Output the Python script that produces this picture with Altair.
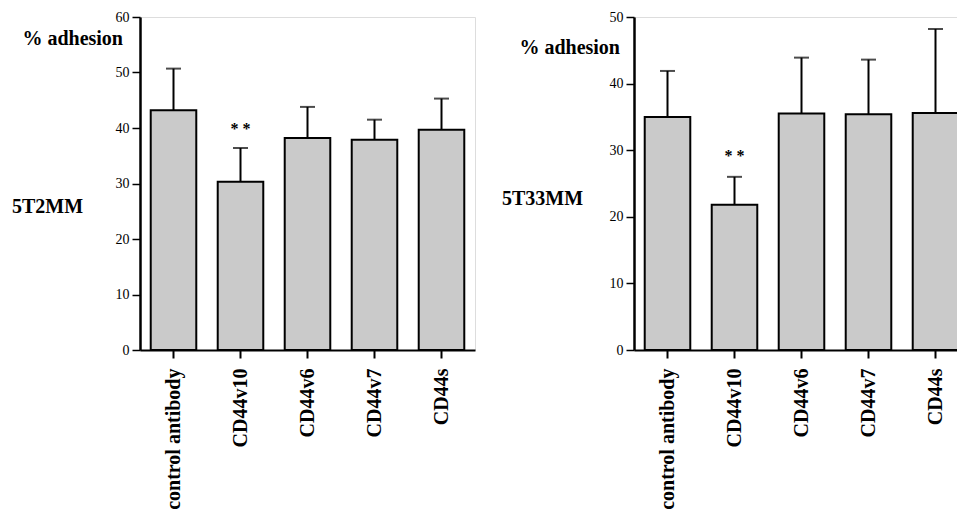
import altair as alt
import pandas as pd

categories = ["control antibody", "CD44v10", "CD44v6", "CD44v7", "CD44s"]

left_mean = [43.2, 30.3, 38.2, 37.9, 39.7]
left_upper = [50.7, 36.4, 43.8, 41.5, 45.3]
left_ymax = 60
left_star_y = [39.9]

right_mean = [35.0, 21.8, 35.5, 35.4, 35.6]
right_upper = [41.9, 26.0, 43.9, 43.6, 48.2]
right_ymax = 50
right_star_y = [29.1]

star_cat = ["CD44v10"]
star_text = ["* *"]

SERIF = "Liberation Serif"


def panel(mean, upper, ymax, star_y, cell_name, ylab_xy, cell_xy):
    df = pd.DataFrame({"cat": categories, "mean": mean, "upper": upper})
    x = alt.X(
        "cat:N",
        sort=categories,
        scale=alt.Scale(paddingInner=0.32, paddingOuter=0.16),
        axis=alt.Axis(
            title=None,
            labelAngle=-90,
            labelFont=SERIF,
            labelFontWeight="bold",
            labelFontSize=20,
            labelColor="black",
            labelPadding=10,
            labelLimit=400,
            tickSize=8,
            tickWidth=2,
            tickColor="black",
            domainWidth=2,
            domainColor="black",
        ),
    )
    y = alt.Y(
        "mean:Q",
        scale=alt.Scale(domain=[0, ymax], nice=False),
        axis=alt.Axis(
            title=None,
            values=list(range(0, ymax + 1, 10)),
            grid=False,
            tickSize=8,
            tickWidth=1.5,
            tickColor="black",
            labelFont=SERIF,
            labelFontSize=14,
            labelColor="black",
            labelPadding=3,
            domainWidth=2.5,
            domainColor="black",
        ),
    )
    base = alt.Chart(df)
    bars = base.mark_bar(fill="#cacaca", stroke="black", strokeWidth=2).encode(x=x, y=y)
    rule = base.mark_rule(color="black", strokeWidth=2).encode(
        x=alt.X("cat:N", sort=categories), y="mean:Q", y2="upper:Q"
    )
    cap = base.mark_tick(orient="horizontal", size=15, thickness=2, color="black").encode(
        x=alt.X("cat:N", sort=categories), y="upper:Q"
    )
    sdf = pd.DataFrame({"cat": star_cat, "y": star_y, "t": star_text})
    stars = alt.Chart(sdf).mark_text(
        font=SERIF, fontWeight="bold", fontSize=16, baseline="middle", color="black"
    ).encode(x=alt.X("cat:N", sort=categories), y="y:Q", text="t:N")
    ylab = alt.Chart(pd.DataFrame({"t": ["% adhesion"]})).mark_text(
        font=SERIF, fontWeight="bold", fontSize=20, align="right", baseline="middle", color="black"
    ).encode(x=alt.value(ylab_xy[0]), y=alt.value(ylab_xy[1]), text="t:N")
    clab = alt.Chart(pd.DataFrame({"t": [cell_name]})).mark_text(
        font=SERIF, fontWeight="bold", fontSize=20, align="left", baseline="middle", color="black"
    ).encode(x=alt.value(cell_xy[0]), y=alt.value(cell_xy[1]), text="t:N")
    return alt.layer(bars, rule, cap, stars, ylab, clab).properties(width=335, height=333)


left = panel(left_mean, left_upper, left_ymax, left_star_y, "5T2MM", (-17, 22), (-128, 190))
right = panel(right_mean, right_upper, right_ymax, right_star_y, "5T33MM", (-14, 31), (-132, 182))

chart = (
    alt.hconcat(left, right, spacing=159, bounds="flush")
    .resolve_scale(y="independent")
    .properties(
        autosize=alt.AutoSizeParams(type="none"),
        padding={"left": 132, "top": 9, "right": 817, "bottom": 489},
    )
    .configure_view(stroke="black", strokeWidth=2)
    .configure(background="white")
)

chart.save("out.html", embed_options={"renderer": "svg", "actions": False})
